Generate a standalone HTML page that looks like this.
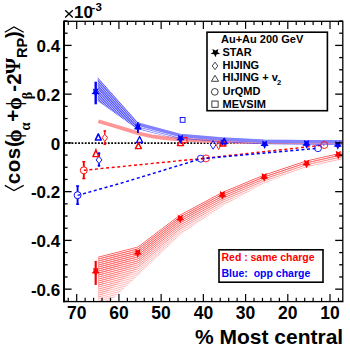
<!DOCTYPE html>
<html><head><meta charset="utf-8"><style>
html,body{margin:0;padding:0;background:#fff;width:350px;height:352px;overflow:hidden}
svg{display:block;position:absolute;left:0;top:0}
</style></head><body>
<svg width="350" height="352" viewBox="0 0 350 352">
<defs>
<clipPath id="fr"><rect x="65" y="21.8" width="277.3" height="279.3"/></clipPath>
<pattern id="hb" width="4" height="2" patternUnits="userSpaceOnUse"><rect x="0" y="0" width="2" height="1" fill="#3a3aff"/><rect x="2" y="1" width="2" height="1" fill="#3a3aff"/></pattern>
<pattern id="hr" width="4" height="2" patternUnits="userSpaceOnUse"><rect x="0" y="0" width="2" height="1" fill="#ff5555"/><rect x="2" y="1" width="2" height="1" fill="#ff5555"/></pattern>
<pattern id="hr2" width="4" height="2" patternUnits="userSpaceOnUse" x="1" y="0"><rect x="0" y="1" width="2" height="1" fill="#ff3030"/><rect x="2" y="0" width="2" height="1" fill="#ff3030"/></pattern>
</defs>
<g clip-path="url(#fr)">
<line x1="65" y1="143.1" x2="342" y2="143.1" stroke="#000" stroke-width="1.6" stroke-dasharray="1.8 1.5"/>
<clipPath id="rb"><polygon points="97.7,256.7 138.0,246.4 180.0,214.5 222.0,192.0 264.0,174.5 306.0,160.5 342.0,152.3 342.0,160.0 306.0,167.5 264.0,183.5 222.0,206.5 180.0,235.0 138.0,275.5 97.7,313.0"/></clipPath>
<g clip-path="url(#rb)" fill="none" stroke="#ff4040" stroke-width="0.9" stroke-opacity="0.42"><polyline points="97.7,253.2 138.0,242.9 180.0,211.0 222.0,188.5 264.0,171.0 306.0,157.0 342.0,148.8"/><polyline points="97.7,255.2 138.0,244.9 180.0,213.0 222.0,190.5 264.0,173.0 306.0,159.0 342.0,150.8"/><polyline points="97.7,257.2 138.0,246.9 180.0,215.0 222.0,192.5 264.0,175.0 306.0,161.0 342.0,152.8"/><polyline points="97.7,259.2 138.0,248.9 180.0,217.0 222.0,194.5 264.0,177.0 306.0,163.0 342.0,154.8"/><polyline points="97.7,261.2 138.0,250.9 180.0,219.0 222.0,196.5 264.0,179.0 306.0,165.0 342.0,156.8"/><polyline points="97.7,263.2 138.0,252.9 180.0,221.0 222.0,198.5 264.0,181.0 306.0,167.0 342.0,158.8"/><polyline points="97.7,265.2 138.0,254.9 180.0,223.0 222.0,200.5 264.0,183.0 306.0,169.0 342.0,160.8"/><polyline points="97.7,267.2 138.0,256.9 180.0,225.0 222.0,202.5 264.0,185.0 306.0,171.0 342.0,162.8"/><polyline points="97.7,269.2 138.0,258.9 180.0,227.0 222.0,204.5 264.0,187.0 306.0,173.0 342.0,164.8"/><polyline points="97.7,271.2 138.0,260.9 180.0,229.0 222.0,206.5 264.0,189.0 306.0,175.0 342.0,166.8"/><polyline points="97.7,273.2 138.0,262.9 180.0,231.0 222.0,208.5 264.0,191.0 306.0,177.0 342.0,168.8"/><polyline points="97.7,275.2 138.0,264.9 180.0,233.0 222.0,210.5 264.0,193.0 306.0,179.0 342.0,170.8"/><polyline points="97.7,277.2 138.0,266.9 180.0,235.0 222.0,212.5 264.0,195.0 306.0,181.0 342.0,172.8"/><polyline points="97.7,279.2 138.0,268.9 180.0,237.0 222.0,214.5 264.0,197.0 306.0,183.0 342.0,174.8"/><polyline points="97.7,281.2 138.0,270.9 180.0,239.0 222.0,216.5 264.0,199.0 306.0,185.0 342.0,176.8"/><polyline points="97.7,283.2 138.0,272.9 180.0,241.0 222.0,218.5 264.0,201.0 306.0,187.0 342.0,178.8"/><polyline points="97.7,285.2 138.0,274.9 180.0,243.0 222.0,220.5 264.0,203.0 306.0,189.0 342.0,180.8"/><polyline points="97.7,287.2 138.0,276.9 180.0,245.0 222.0,222.5 264.0,205.0 306.0,191.0 342.0,182.8"/><polyline points="97.7,289.2 138.0,278.9 180.0,247.0 222.0,224.5 264.0,207.0 306.0,193.0 342.0,184.8"/><polyline points="97.7,291.2 138.0,280.9 180.0,249.0 222.0,226.5 264.0,209.0 306.0,195.0 342.0,186.8"/><polyline points="97.7,293.2 138.0,282.9 180.0,251.0 222.0,228.5 264.0,211.0 306.0,197.0 342.0,188.8"/><polyline points="97.7,295.2 138.0,284.9 180.0,253.0 222.0,230.5 264.0,213.0 306.0,199.0 342.0,190.8"/><polyline points="97.7,297.2 138.0,286.9 180.0,255.0 222.0,232.5 264.0,215.0 306.0,201.0 342.0,192.8"/><polyline points="97.7,299.2 138.0,288.9 180.0,257.0 222.0,234.5 264.0,217.0 306.0,203.0 342.0,194.8"/><polyline points="97.7,301.2 138.0,290.9 180.0,259.0 222.0,236.5 264.0,219.0 306.0,205.0 342.0,196.8"/><polyline points="97.7,303.2 138.0,292.9 180.0,261.0 222.0,238.5 264.0,221.0 306.0,207.0 342.0,198.8"/><polyline points="97.7,305.2 138.0,294.9 180.0,263.0 222.0,240.5 264.0,223.0 306.0,209.0 342.0,200.8"/><polyline points="97.7,307.2 138.0,296.9 180.0,265.0 222.0,242.5 264.0,225.0 306.0,211.0 342.0,202.8"/><polyline points="97.7,309.2 138.0,298.9 180.0,267.0 222.0,244.5 264.0,227.0 306.0,213.0 342.0,204.8"/><polyline points="97.7,311.2 138.0,300.9 180.0,269.0 222.0,246.5 264.0,229.0 306.0,215.0 342.0,206.8"/><polyline points="97.7,313.2 138.0,302.9 180.0,271.0 222.0,248.5 264.0,231.0 306.0,217.0 342.0,208.8"/><polyline points="97.7,315.2 138.0,304.9 180.0,273.0 222.0,250.5 264.0,233.0 306.0,219.0 342.0,210.8"/><polyline points="97.7,317.2 138.0,306.9 180.0,275.0 222.0,252.5 264.0,235.0 306.0,221.0 342.0,212.8"/><polyline points="97.7,319.2 138.0,308.9 180.0,277.0 222.0,254.5 264.0,237.0 306.0,223.0 342.0,214.8"/><polyline points="97.7,321.2 138.0,310.9 180.0,279.0 222.0,256.5 264.0,239.0 306.0,225.0 342.0,216.8"/><polyline points="97.7,323.2 138.0,312.9 180.0,281.0 222.0,258.5 264.0,241.0 306.0,227.0 342.0,218.8"/></g>
<clipPath id="rm0"><polygon points="97.7,256.7 138.0,246.4 180.0,214.5 222.0,192.0 264.0,174.5 306.0,160.5 342.0,152.3 342.0,158.1 306.0,165.8 264.0,181.2 222.0,202.9 180.0,229.9 138.0,268.2 97.7,298.9"/></clipPath>
<g clip-path="url(#rm0)" fill="none" stroke="#ff3030" stroke-width="0.9" stroke-opacity="0.3"><polyline points="97.7,253.2 138.0,242.9 180.0,211.0 222.0,188.5 264.0,171.0 306.0,157.0 342.0,148.8"/><polyline points="97.7,255.2 138.0,244.9 180.0,213.0 222.0,190.5 264.0,173.0 306.0,159.0 342.0,150.8"/><polyline points="97.7,257.2 138.0,246.9 180.0,215.0 222.0,192.5 264.0,175.0 306.0,161.0 342.0,152.8"/><polyline points="97.7,259.2 138.0,248.9 180.0,217.0 222.0,194.5 264.0,177.0 306.0,163.0 342.0,154.8"/><polyline points="97.7,261.2 138.0,250.9 180.0,219.0 222.0,196.5 264.0,179.0 306.0,165.0 342.0,156.8"/><polyline points="97.7,263.2 138.0,252.9 180.0,221.0 222.0,198.5 264.0,181.0 306.0,167.0 342.0,158.8"/><polyline points="97.7,265.2 138.0,254.9 180.0,223.0 222.0,200.5 264.0,183.0 306.0,169.0 342.0,160.8"/><polyline points="97.7,267.2 138.0,256.9 180.0,225.0 222.0,202.5 264.0,185.0 306.0,171.0 342.0,162.8"/><polyline points="97.7,269.2 138.0,258.9 180.0,227.0 222.0,204.5 264.0,187.0 306.0,173.0 342.0,164.8"/><polyline points="97.7,271.2 138.0,260.9 180.0,229.0 222.0,206.5 264.0,189.0 306.0,175.0 342.0,166.8"/><polyline points="97.7,273.2 138.0,262.9 180.0,231.0 222.0,208.5 264.0,191.0 306.0,177.0 342.0,168.8"/><polyline points="97.7,275.2 138.0,264.9 180.0,233.0 222.0,210.5 264.0,193.0 306.0,179.0 342.0,170.8"/><polyline points="97.7,277.2 138.0,266.9 180.0,235.0 222.0,212.5 264.0,195.0 306.0,181.0 342.0,172.8"/><polyline points="97.7,279.2 138.0,268.9 180.0,237.0 222.0,214.5 264.0,197.0 306.0,183.0 342.0,174.8"/><polyline points="97.7,281.2 138.0,270.9 180.0,239.0 222.0,216.5 264.0,199.0 306.0,185.0 342.0,176.8"/><polyline points="97.7,283.2 138.0,272.9 180.0,241.0 222.0,218.5 264.0,201.0 306.0,187.0 342.0,178.8"/><polyline points="97.7,285.2 138.0,274.9 180.0,243.0 222.0,220.5 264.0,203.0 306.0,189.0 342.0,180.8"/><polyline points="97.7,287.2 138.0,276.9 180.0,245.0 222.0,222.5 264.0,205.0 306.0,191.0 342.0,182.8"/><polyline points="97.7,289.2 138.0,278.9 180.0,247.0 222.0,224.5 264.0,207.0 306.0,193.0 342.0,184.8"/><polyline points="97.7,291.2 138.0,280.9 180.0,249.0 222.0,226.5 264.0,209.0 306.0,195.0 342.0,186.8"/><polyline points="97.7,293.2 138.0,282.9 180.0,251.0 222.0,228.5 264.0,211.0 306.0,197.0 342.0,188.8"/><polyline points="97.7,295.2 138.0,284.9 180.0,253.0 222.0,230.5 264.0,213.0 306.0,199.0 342.0,190.8"/><polyline points="97.7,297.2 138.0,286.9 180.0,255.0 222.0,232.5 264.0,215.0 306.0,201.0 342.0,192.8"/><polyline points="97.7,299.2 138.0,288.9 180.0,257.0 222.0,234.5 264.0,217.0 306.0,203.0 342.0,194.8"/><polyline points="97.7,301.2 138.0,290.9 180.0,259.0 222.0,236.5 264.0,219.0 306.0,205.0 342.0,196.8"/><polyline points="97.7,303.2 138.0,292.9 180.0,261.0 222.0,238.5 264.0,221.0 306.0,207.0 342.0,198.8"/><polyline points="97.7,305.2 138.0,294.9 180.0,263.0 222.0,240.5 264.0,223.0 306.0,209.0 342.0,200.8"/><polyline points="97.7,307.2 138.0,296.9 180.0,265.0 222.0,242.5 264.0,225.0 306.0,211.0 342.0,202.8"/><polyline points="97.7,309.2 138.0,298.9 180.0,267.0 222.0,244.5 264.0,227.0 306.0,213.0 342.0,204.8"/><polyline points="97.7,311.2 138.0,300.9 180.0,269.0 222.0,246.5 264.0,229.0 306.0,215.0 342.0,206.8"/><polyline points="97.7,313.2 138.0,302.9 180.0,271.0 222.0,248.5 264.0,231.0 306.0,217.0 342.0,208.8"/><polyline points="97.7,315.2 138.0,304.9 180.0,273.0 222.0,250.5 264.0,233.0 306.0,219.0 342.0,210.8"/><polyline points="97.7,317.2 138.0,306.9 180.0,275.0 222.0,252.5 264.0,235.0 306.0,221.0 342.0,212.8"/><polyline points="97.7,319.2 138.0,308.9 180.0,277.0 222.0,254.5 264.0,237.0 306.0,223.0 342.0,214.8"/><polyline points="97.7,321.2 138.0,310.9 180.0,279.0 222.0,256.5 264.0,239.0 306.0,225.0 342.0,216.8"/><polyline points="97.7,323.2 138.0,312.9 180.0,281.0 222.0,258.5 264.0,241.0 306.0,227.0 342.0,218.8"/></g>
<clipPath id="rm1"><polygon points="97.7,256.7 138.0,246.4 180.0,214.5 222.0,192.0 264.0,174.5 306.0,160.5 342.0,152.3 342.0,156.5 306.0,164.3 264.0,179.4 222.0,200.0 180.0,225.8 138.0,262.4 97.7,287.7"/></clipPath>
<g clip-path="url(#rm1)" fill="none" stroke="#ff3030" stroke-width="0.9" stroke-opacity="0.3"><polyline points="97.7,253.2 138.0,242.9 180.0,211.0 222.0,188.5 264.0,171.0 306.0,157.0 342.0,148.8"/><polyline points="97.7,255.2 138.0,244.9 180.0,213.0 222.0,190.5 264.0,173.0 306.0,159.0 342.0,150.8"/><polyline points="97.7,257.2 138.0,246.9 180.0,215.0 222.0,192.5 264.0,175.0 306.0,161.0 342.0,152.8"/><polyline points="97.7,259.2 138.0,248.9 180.0,217.0 222.0,194.5 264.0,177.0 306.0,163.0 342.0,154.8"/><polyline points="97.7,261.2 138.0,250.9 180.0,219.0 222.0,196.5 264.0,179.0 306.0,165.0 342.0,156.8"/><polyline points="97.7,263.2 138.0,252.9 180.0,221.0 222.0,198.5 264.0,181.0 306.0,167.0 342.0,158.8"/><polyline points="97.7,265.2 138.0,254.9 180.0,223.0 222.0,200.5 264.0,183.0 306.0,169.0 342.0,160.8"/><polyline points="97.7,267.2 138.0,256.9 180.0,225.0 222.0,202.5 264.0,185.0 306.0,171.0 342.0,162.8"/><polyline points="97.7,269.2 138.0,258.9 180.0,227.0 222.0,204.5 264.0,187.0 306.0,173.0 342.0,164.8"/><polyline points="97.7,271.2 138.0,260.9 180.0,229.0 222.0,206.5 264.0,189.0 306.0,175.0 342.0,166.8"/><polyline points="97.7,273.2 138.0,262.9 180.0,231.0 222.0,208.5 264.0,191.0 306.0,177.0 342.0,168.8"/><polyline points="97.7,275.2 138.0,264.9 180.0,233.0 222.0,210.5 264.0,193.0 306.0,179.0 342.0,170.8"/><polyline points="97.7,277.2 138.0,266.9 180.0,235.0 222.0,212.5 264.0,195.0 306.0,181.0 342.0,172.8"/><polyline points="97.7,279.2 138.0,268.9 180.0,237.0 222.0,214.5 264.0,197.0 306.0,183.0 342.0,174.8"/><polyline points="97.7,281.2 138.0,270.9 180.0,239.0 222.0,216.5 264.0,199.0 306.0,185.0 342.0,176.8"/><polyline points="97.7,283.2 138.0,272.9 180.0,241.0 222.0,218.5 264.0,201.0 306.0,187.0 342.0,178.8"/><polyline points="97.7,285.2 138.0,274.9 180.0,243.0 222.0,220.5 264.0,203.0 306.0,189.0 342.0,180.8"/><polyline points="97.7,287.2 138.0,276.9 180.0,245.0 222.0,222.5 264.0,205.0 306.0,191.0 342.0,182.8"/><polyline points="97.7,289.2 138.0,278.9 180.0,247.0 222.0,224.5 264.0,207.0 306.0,193.0 342.0,184.8"/><polyline points="97.7,291.2 138.0,280.9 180.0,249.0 222.0,226.5 264.0,209.0 306.0,195.0 342.0,186.8"/><polyline points="97.7,293.2 138.0,282.9 180.0,251.0 222.0,228.5 264.0,211.0 306.0,197.0 342.0,188.8"/><polyline points="97.7,295.2 138.0,284.9 180.0,253.0 222.0,230.5 264.0,213.0 306.0,199.0 342.0,190.8"/><polyline points="97.7,297.2 138.0,286.9 180.0,255.0 222.0,232.5 264.0,215.0 306.0,201.0 342.0,192.8"/><polyline points="97.7,299.2 138.0,288.9 180.0,257.0 222.0,234.5 264.0,217.0 306.0,203.0 342.0,194.8"/><polyline points="97.7,301.2 138.0,290.9 180.0,259.0 222.0,236.5 264.0,219.0 306.0,205.0 342.0,196.8"/><polyline points="97.7,303.2 138.0,292.9 180.0,261.0 222.0,238.5 264.0,221.0 306.0,207.0 342.0,198.8"/><polyline points="97.7,305.2 138.0,294.9 180.0,263.0 222.0,240.5 264.0,223.0 306.0,209.0 342.0,200.8"/><polyline points="97.7,307.2 138.0,296.9 180.0,265.0 222.0,242.5 264.0,225.0 306.0,211.0 342.0,202.8"/><polyline points="97.7,309.2 138.0,298.9 180.0,267.0 222.0,244.5 264.0,227.0 306.0,213.0 342.0,204.8"/><polyline points="97.7,311.2 138.0,300.9 180.0,269.0 222.0,246.5 264.0,229.0 306.0,215.0 342.0,206.8"/><polyline points="97.7,313.2 138.0,302.9 180.0,271.0 222.0,248.5 264.0,231.0 306.0,217.0 342.0,208.8"/><polyline points="97.7,315.2 138.0,304.9 180.0,273.0 222.0,250.5 264.0,233.0 306.0,219.0 342.0,210.8"/><polyline points="97.7,317.2 138.0,306.9 180.0,275.0 222.0,252.5 264.0,235.0 306.0,221.0 342.0,212.8"/><polyline points="97.7,319.2 138.0,308.9 180.0,277.0 222.0,254.5 264.0,237.0 306.0,223.0 342.0,214.8"/><polyline points="97.7,321.2 138.0,310.9 180.0,279.0 222.0,256.5 264.0,239.0 306.0,225.0 342.0,216.8"/><polyline points="97.7,323.2 138.0,312.9 180.0,281.0 222.0,258.5 264.0,241.0 306.0,227.0 342.0,218.8"/></g>
<clipPath id="rm2"><polygon points="97.7,256.7 138.0,246.4 180.0,214.5 222.0,192.0 264.0,174.5 306.0,160.5 342.0,152.3 342.0,155.0 306.0,162.9 264.0,177.7 222.0,197.1 180.0,221.7 138.0,256.6 97.7,276.4"/></clipPath>
<g clip-path="url(#rm2)" fill="none" stroke="#ff3030" stroke-width="0.9" stroke-opacity="0.3"><polyline points="97.7,253.2 138.0,242.9 180.0,211.0 222.0,188.5 264.0,171.0 306.0,157.0 342.0,148.8"/><polyline points="97.7,255.2 138.0,244.9 180.0,213.0 222.0,190.5 264.0,173.0 306.0,159.0 342.0,150.8"/><polyline points="97.7,257.2 138.0,246.9 180.0,215.0 222.0,192.5 264.0,175.0 306.0,161.0 342.0,152.8"/><polyline points="97.7,259.2 138.0,248.9 180.0,217.0 222.0,194.5 264.0,177.0 306.0,163.0 342.0,154.8"/><polyline points="97.7,261.2 138.0,250.9 180.0,219.0 222.0,196.5 264.0,179.0 306.0,165.0 342.0,156.8"/><polyline points="97.7,263.2 138.0,252.9 180.0,221.0 222.0,198.5 264.0,181.0 306.0,167.0 342.0,158.8"/><polyline points="97.7,265.2 138.0,254.9 180.0,223.0 222.0,200.5 264.0,183.0 306.0,169.0 342.0,160.8"/><polyline points="97.7,267.2 138.0,256.9 180.0,225.0 222.0,202.5 264.0,185.0 306.0,171.0 342.0,162.8"/><polyline points="97.7,269.2 138.0,258.9 180.0,227.0 222.0,204.5 264.0,187.0 306.0,173.0 342.0,164.8"/><polyline points="97.7,271.2 138.0,260.9 180.0,229.0 222.0,206.5 264.0,189.0 306.0,175.0 342.0,166.8"/><polyline points="97.7,273.2 138.0,262.9 180.0,231.0 222.0,208.5 264.0,191.0 306.0,177.0 342.0,168.8"/><polyline points="97.7,275.2 138.0,264.9 180.0,233.0 222.0,210.5 264.0,193.0 306.0,179.0 342.0,170.8"/><polyline points="97.7,277.2 138.0,266.9 180.0,235.0 222.0,212.5 264.0,195.0 306.0,181.0 342.0,172.8"/><polyline points="97.7,279.2 138.0,268.9 180.0,237.0 222.0,214.5 264.0,197.0 306.0,183.0 342.0,174.8"/><polyline points="97.7,281.2 138.0,270.9 180.0,239.0 222.0,216.5 264.0,199.0 306.0,185.0 342.0,176.8"/><polyline points="97.7,283.2 138.0,272.9 180.0,241.0 222.0,218.5 264.0,201.0 306.0,187.0 342.0,178.8"/><polyline points="97.7,285.2 138.0,274.9 180.0,243.0 222.0,220.5 264.0,203.0 306.0,189.0 342.0,180.8"/><polyline points="97.7,287.2 138.0,276.9 180.0,245.0 222.0,222.5 264.0,205.0 306.0,191.0 342.0,182.8"/><polyline points="97.7,289.2 138.0,278.9 180.0,247.0 222.0,224.5 264.0,207.0 306.0,193.0 342.0,184.8"/><polyline points="97.7,291.2 138.0,280.9 180.0,249.0 222.0,226.5 264.0,209.0 306.0,195.0 342.0,186.8"/><polyline points="97.7,293.2 138.0,282.9 180.0,251.0 222.0,228.5 264.0,211.0 306.0,197.0 342.0,188.8"/><polyline points="97.7,295.2 138.0,284.9 180.0,253.0 222.0,230.5 264.0,213.0 306.0,199.0 342.0,190.8"/><polyline points="97.7,297.2 138.0,286.9 180.0,255.0 222.0,232.5 264.0,215.0 306.0,201.0 342.0,192.8"/><polyline points="97.7,299.2 138.0,288.9 180.0,257.0 222.0,234.5 264.0,217.0 306.0,203.0 342.0,194.8"/><polyline points="97.7,301.2 138.0,290.9 180.0,259.0 222.0,236.5 264.0,219.0 306.0,205.0 342.0,196.8"/><polyline points="97.7,303.2 138.0,292.9 180.0,261.0 222.0,238.5 264.0,221.0 306.0,207.0 342.0,198.8"/><polyline points="97.7,305.2 138.0,294.9 180.0,263.0 222.0,240.5 264.0,223.0 306.0,209.0 342.0,200.8"/><polyline points="97.7,307.2 138.0,296.9 180.0,265.0 222.0,242.5 264.0,225.0 306.0,211.0 342.0,202.8"/><polyline points="97.7,309.2 138.0,298.9 180.0,267.0 222.0,244.5 264.0,227.0 306.0,213.0 342.0,204.8"/><polyline points="97.7,311.2 138.0,300.9 180.0,269.0 222.0,246.5 264.0,229.0 306.0,215.0 342.0,206.8"/><polyline points="97.7,313.2 138.0,302.9 180.0,271.0 222.0,248.5 264.0,231.0 306.0,217.0 342.0,208.8"/><polyline points="97.7,315.2 138.0,304.9 180.0,273.0 222.0,250.5 264.0,233.0 306.0,219.0 342.0,210.8"/><polyline points="97.7,317.2 138.0,306.9 180.0,275.0 222.0,252.5 264.0,235.0 306.0,221.0 342.0,212.8"/><polyline points="97.7,319.2 138.0,308.9 180.0,277.0 222.0,254.5 264.0,237.0 306.0,223.0 342.0,214.8"/><polyline points="97.7,321.2 138.0,310.9 180.0,279.0 222.0,256.5 264.0,239.0 306.0,225.0 342.0,216.8"/><polyline points="97.7,323.2 138.0,312.9 180.0,281.0 222.0,258.5 264.0,241.0 306.0,227.0 342.0,218.8"/></g>
<polyline points="98.3,121.2 112.0,125.3 126.5,129.6 139.0,133.5 152.0,136.3 164.0,138.0 180.0,139.4 200.0,140.6 240.0,141.8 300.0,142.2 342.0,142.3" fill="none" stroke="#ff9696" stroke-width="3.8"/>
<clipPath id="bl"><polygon points="97.7,77.2 138.0,122.5 138.0,129.8 97.7,101.0"/></clipPath>
<g clip-path="url(#bl)" stroke="#2a2aff" stroke-width="1.25" stroke-opacity="0.8"><line x1="95.7" y1="75.45" x2="140" y2="125.25"/><line x1="95.7" y1="78.05" x2="140" y2="127.85"/><line x1="95.7" y1="80.65" x2="140" y2="130.45"/><line x1="95.7" y1="83.25" x2="140" y2="133.05"/><line x1="95.7" y1="85.85" x2="140" y2="135.65"/><line x1="95.7" y1="88.45" x2="140" y2="138.25"/><line x1="95.7" y1="91.05" x2="140" y2="140.85"/><line x1="95.7" y1="93.65" x2="140" y2="143.45"/><line x1="95.7" y1="96.25" x2="140" y2="146.05"/><line x1="95.7" y1="98.85" x2="140" y2="148.65"/><line x1="95.7" y1="101.45" x2="140" y2="151.25"/><line x1="95.7" y1="104.05" x2="140" y2="153.85"/><line x1="95.7" y1="106.65" x2="140" y2="156.45"/><line x1="95.7" y1="109.25" x2="140" y2="159.05"/></g>
<clipPath id="bb"><polygon points="138.0,122.5 180.0,133.8 222.0,137.4 264.0,139.6 306.0,139.9 342.0,140.0 342.0,145.0 306.0,145.0 264.0,144.6 222.0,142.5 180.0,139.5 138.0,129.8"/></clipPath>
<g clip-path="url(#bb)" fill="none" stroke="#3030ff" stroke-width="0.85" stroke-opacity="0.7"><polyline points="138.0,123.1 180.0,134.4 222.0,138.0 264.0,140.2 306.0,140.5 342.0,140.6"/><polyline points="138.0,125.0 180.0,136.3 222.0,139.9 264.0,142.1 306.0,142.4 342.0,142.5"/><polyline points="138.0,126.9 180.0,138.2 222.0,141.8 264.0,144.0 306.0,144.3 342.0,144.4"/><polyline points="138.0,128.8 180.0,140.1 222.0,143.7 264.0,145.9 306.0,146.2 342.0,146.3"/><polyline points="138.0,130.7 180.0,142.0 222.0,145.6 264.0,147.8 306.0,148.1 342.0,148.2"/><polyline points="138.0,132.6 180.0,143.9 222.0,147.5 264.0,149.7 306.0,150.0 342.0,150.1"/></g>
<polyline points="138.0,124.2 180.0,135.4 222.0,139.0 264.0,141.3 306.0,141.6 342.0,141.7" fill="none" stroke="#8282ff" stroke-width="3.4"/>
<polyline points="83.8,170.3 206.0,158.1 324.3,145.0" fill="none" stroke="#f00" stroke-width="1.45" stroke-dasharray="3 2.6"/>
<polyline points="77.6,195.4 124.0,182.3 148.0,175.0 200.8,158.7 318.0,148.3" fill="none" stroke="#00f" stroke-width="1.45" stroke-dasharray="3 2.6"/>
</g>
<line x1="95.7" y1="81.7" x2="95.7" y2="104.3" stroke="#0000ff" stroke-width="2.4"/>
<line x1="95.7" y1="260.9" x2="95.7" y2="284.9" stroke="#ff0000" stroke-width="2.2"/>
<line x1="83.8" y1="161" x2="83.8" y2="166.8" stroke="#ff0000" stroke-width="1.9"/><line x1="83.8" y1="173.8" x2="83.8" y2="179.2" stroke="#ff0000" stroke-width="1.9"/><rect x="82.30" y="161.00" width="3.0" height="1.4" fill="#ff0000"/><rect x="82.30" y="177.80" width="3.0" height="1.4" fill="#ff0000"/>
<line x1="77.6" y1="185.4" x2="77.6" y2="191.7" stroke="#0000ff" stroke-width="1.9"/><line x1="77.6" y1="198.7" x2="77.6" y2="204.9" stroke="#0000ff" stroke-width="1.9"/><rect x="76.10" y="185.40" width="3.0" height="1.4" fill="#0000ff"/><rect x="76.10" y="203.50" width="3.0" height="1.4" fill="#0000ff"/>
<line x1="104.8" y1="130.3" x2="104.8" y2="134.2" stroke="#ff0000" stroke-width="1.3"/><line x1="104.8" y1="141.4" x2="104.8" y2="144.9" stroke="#ff0000" stroke-width="1.3"/><rect x="103.50" y="130.30" width="2.6" height="1.4" fill="#ff0000"/><rect x="103.50" y="143.50" width="2.6" height="1.4" fill="#ff0000"/>
<line x1="99" y1="152.6" x2="99" y2="156.2" stroke="#0000ff" stroke-width="1.9"/><line x1="99" y1="163.6" x2="99" y2="166.5" stroke="#0000ff" stroke-width="1.9"/><rect x="97.70" y="152.60" width="2.6" height="1.4" fill="#0000ff"/><rect x="97.70" y="165.10" width="2.6" height="1.4" fill="#0000ff"/>
<circle cx="83.8" cy="170.3" r="3.5" fill="none" stroke="#ff0000" stroke-width="0.95"/>
<circle cx="77.6" cy="195.2" r="3.5" fill="none" stroke="#0000ff" stroke-width="0.95"/>
<circle cx="206" cy="158.4" r="3.5" fill="none" stroke="#ff0000" stroke-width="0.85"/>
<circle cx="200.8" cy="158.7" r="3.5" fill="none" stroke="#0000ff" stroke-width="0.85"/>
<circle cx="324.3" cy="145" r="3.5" fill="none" stroke="#ff0000" stroke-width="0.85"/>
<circle cx="318" cy="148.3" r="3.4" fill="none" stroke="#0000ff" stroke-width="0.85"/>
<polygon points="104.8,134.2 107.5,137.8 104.8,141.4 102.1,137.8" fill="none" stroke="#ff0000" stroke-width="0.95"/>
<polygon points="99.0,156.2 101.9,159.9 99.0,163.7 96.1,159.9" fill="none" stroke="#0000ff" stroke-width="0.95"/>
<polygon points="213.1,140.6 215.9,144.9 213.1,149.2 210.3,144.9" fill="none" stroke="#0000ff" stroke-width="0.85"/>
<polygon points="218.6,141.3 220.7,145.4 218.6,149.5 216.5,145.4" fill="none" stroke="#ff0000" stroke-width="0.85"/>
<polygon points="222.5,145.9 221.5,143.8 219.4,143.4 221.0,141.7 220.6,139.4 222.5,140.5 224.4,139.4 224.0,141.7 225.6,143.4 223.5,143.8" fill="#0000ff"/>
<polygon points="95.3,140.1 101.3,140.1 98.3,133.9" fill="none" stroke="#0000ff" stroke-width="1.5" stroke-linejoin="round"/>
<line x1="95.9" y1="148.6" x2="95.9" y2="150.5" stroke="#ff0000" stroke-width="1.3"/>
<polygon points="92.9,156.6 98.9,156.6 95.9,150.2" fill="none" stroke="#ff0000" stroke-width="1.45" stroke-linejoin="round"/>
<polygon points="136.5,142.5 142.7,142.5 139.6,136.5" fill="none" stroke="#0000ff" stroke-width="1.3" stroke-linejoin="round"/>
<polygon points="135.4,148.6 141.4,148.6 138.4,142.8" fill="none" stroke="#ff0000" stroke-width="1.45" stroke-linejoin="round"/>
<polygon points="177.4,145.6 183.6,145.6 180.5,139.8" fill="none" stroke="#ff0000" stroke-width="1.45" stroke-linejoin="round"/>
<polygon points="219.8,146.0 225.8,146.0 222.8,140.4" fill="none" stroke="#ff0000" stroke-width="1.6" stroke-linejoin="round"/>
<polygon points="221.4,143.6 227.0,143.6 224.2,138.4" fill="none" stroke="#0000ff" stroke-width="1.6" stroke-linejoin="round"/>
<rect x="180.2" y="117.5" width="4.8" height="4.8" fill="none" stroke="#0000ff" stroke-width="0.9"/>
<rect x="181.60000000000002" y="137.4" width="5.4" height="5.4" fill="none" stroke="#ff0000" stroke-width="0.9"/>
<line x1="137.9" y1="122.3" x2="137.9" y2="133.0" stroke="#0000ff" stroke-width="1.8"/>
<polygon points="95.6,97.2 94.3,94.3 91.5,93.9 93.5,91.7 93.1,88.5 95.6,90.0 98.1,88.5 97.7,91.7 99.7,93.9 96.9,94.3" fill="#0000ff"/>
<polygon points="137.9,132.5 136.6,129.6 133.8,129.2 135.8,127.0 135.4,123.8 137.9,125.3 140.4,123.8 140.0,127.0 142.0,129.2 139.2,129.6" fill="#0000ff"/>
<polygon points="180.5,143.4 179.2,140.5 176.4,140.1 178.4,137.9 178.0,134.7 180.5,136.2 183.0,134.7 182.6,137.9 184.6,140.1 181.8,140.5" fill="#0000ff"/>
<polygon points="264.6,149.1 263.3,146.2 260.5,145.8 262.5,143.6 262.1,140.4 264.6,141.9 267.1,140.4 266.7,143.6 268.7,145.8 265.9,146.2" fill="#0000ff"/>
<polygon points="306.5,148.8 305.2,145.9 302.4,145.5 304.4,143.3 304.0,140.1 306.5,141.6 309.0,140.1 308.6,143.3 310.6,145.5 307.8,145.9" fill="#0000ff"/>
<polygon points="337.8,149.8 336.5,146.9 333.7,146.5 335.7,144.3 335.3,141.1 337.8,142.6 340.3,141.1 339.9,144.3 341.9,146.5 339.1,146.9" fill="#0000ff"/>
<polygon points="95.7,276.5 94.4,273.6 91.6,273.2 93.6,271.0 93.2,267.8 95.7,269.3 98.2,267.8 97.8,271.0 99.8,273.2 97.0,273.6" fill="#ff0000"/>
<polygon points="137.7,257.7 136.4,254.8 133.6,254.4 135.6,252.2 135.2,249.0 137.7,250.5 140.2,249.0 139.8,252.2 141.8,254.4 139.0,254.8" fill="#ff0000"/>
<polygon points="180.2,223.5 178.9,220.6 176.1,220.2 178.1,218.0 177.7,214.8 180.2,216.3 182.7,214.8 182.3,218.0 184.3,220.2 181.5,220.6" fill="#ff0000"/>
<polygon points="222.4,199.8 221.1,196.9 218.3,196.5 220.3,194.3 219.9,191.1 222.4,192.6 224.9,191.1 224.5,194.3 226.5,196.5 223.7,196.9" fill="#ff0000"/>
<polygon points="264.2,181.8 262.9,178.9 260.1,178.5 262.1,176.3 261.7,173.1 264.2,174.6 266.7,173.1 266.3,176.3 268.3,178.5 265.5,178.9" fill="#ff0000"/>
<polygon points="306.6,168.5 305.3,165.6 302.5,165.2 304.5,163.0 304.1,159.8 306.6,161.3 309.1,159.8 308.7,163.0 310.7,165.2 307.9,165.6" fill="#ff0000"/>
<polygon points="338.3,159.5 337.0,156.6 334.2,156.2 336.2,154.0 335.8,150.8 338.3,152.3 340.8,150.8 340.4,154.0 342.4,156.2 339.6,156.6" fill="#ff0000"/>
<line x1="64.00" y1="301.34" x2="67.60" y2="301.34" stroke="#000" stroke-width="1.3"/>
<line x1="342.80" y1="301.34" x2="339.20" y2="301.34" stroke="#000" stroke-width="1.3"/>
<line x1="64.00" y1="289.15" x2="71.60" y2="289.15" stroke="#000" stroke-width="1.3"/>
<line x1="342.80" y1="289.15" x2="335.20" y2="289.15" stroke="#000" stroke-width="1.3"/>
<line x1="64.00" y1="276.96" x2="67.60" y2="276.96" stroke="#000" stroke-width="1.3"/>
<line x1="342.80" y1="276.96" x2="339.20" y2="276.96" stroke="#000" stroke-width="1.3"/>
<line x1="64.00" y1="264.77" x2="67.60" y2="264.77" stroke="#000" stroke-width="1.3"/>
<line x1="342.80" y1="264.77" x2="339.20" y2="264.77" stroke="#000" stroke-width="1.3"/>
<line x1="64.00" y1="252.59" x2="67.60" y2="252.59" stroke="#000" stroke-width="1.3"/>
<line x1="342.80" y1="252.59" x2="339.20" y2="252.59" stroke="#000" stroke-width="1.3"/>
<line x1="64.00" y1="240.40" x2="71.60" y2="240.40" stroke="#000" stroke-width="1.3"/>
<line x1="342.80" y1="240.40" x2="335.20" y2="240.40" stroke="#000" stroke-width="1.3"/>
<line x1="64.00" y1="228.21" x2="67.60" y2="228.21" stroke="#000" stroke-width="1.3"/>
<line x1="342.80" y1="228.21" x2="339.20" y2="228.21" stroke="#000" stroke-width="1.3"/>
<line x1="64.00" y1="216.03" x2="67.60" y2="216.03" stroke="#000" stroke-width="1.3"/>
<line x1="342.80" y1="216.03" x2="339.20" y2="216.03" stroke="#000" stroke-width="1.3"/>
<line x1="64.00" y1="203.84" x2="67.60" y2="203.84" stroke="#000" stroke-width="1.3"/>
<line x1="342.80" y1="203.84" x2="339.20" y2="203.84" stroke="#000" stroke-width="1.3"/>
<line x1="64.00" y1="191.65" x2="71.60" y2="191.65" stroke="#000" stroke-width="1.3"/>
<line x1="342.80" y1="191.65" x2="335.20" y2="191.65" stroke="#000" stroke-width="1.3"/>
<line x1="64.00" y1="179.46" x2="67.60" y2="179.46" stroke="#000" stroke-width="1.3"/>
<line x1="342.80" y1="179.46" x2="339.20" y2="179.46" stroke="#000" stroke-width="1.3"/>
<line x1="64.00" y1="167.28" x2="67.60" y2="167.28" stroke="#000" stroke-width="1.3"/>
<line x1="342.80" y1="167.28" x2="339.20" y2="167.28" stroke="#000" stroke-width="1.3"/>
<line x1="64.00" y1="155.09" x2="67.60" y2="155.09" stroke="#000" stroke-width="1.3"/>
<line x1="342.80" y1="155.09" x2="339.20" y2="155.09" stroke="#000" stroke-width="1.3"/>
<line x1="64.00" y1="142.90" x2="71.60" y2="142.90" stroke="#000" stroke-width="1.3"/>
<line x1="342.80" y1="142.90" x2="335.20" y2="142.90" stroke="#000" stroke-width="1.3"/>
<line x1="64.00" y1="130.71" x2="67.60" y2="130.71" stroke="#000" stroke-width="1.3"/>
<line x1="342.80" y1="130.71" x2="339.20" y2="130.71" stroke="#000" stroke-width="1.3"/>
<line x1="64.00" y1="118.53" x2="67.60" y2="118.53" stroke="#000" stroke-width="1.3"/>
<line x1="342.80" y1="118.53" x2="339.20" y2="118.53" stroke="#000" stroke-width="1.3"/>
<line x1="64.00" y1="106.34" x2="67.60" y2="106.34" stroke="#000" stroke-width="1.3"/>
<line x1="342.80" y1="106.34" x2="339.20" y2="106.34" stroke="#000" stroke-width="1.3"/>
<line x1="64.00" y1="94.15" x2="71.60" y2="94.15" stroke="#000" stroke-width="1.3"/>
<line x1="342.80" y1="94.15" x2="335.20" y2="94.15" stroke="#000" stroke-width="1.3"/>
<line x1="64.00" y1="81.96" x2="67.60" y2="81.96" stroke="#000" stroke-width="1.3"/>
<line x1="342.80" y1="81.96" x2="339.20" y2="81.96" stroke="#000" stroke-width="1.3"/>
<line x1="64.00" y1="69.77" x2="67.60" y2="69.77" stroke="#000" stroke-width="1.3"/>
<line x1="342.80" y1="69.77" x2="339.20" y2="69.77" stroke="#000" stroke-width="1.3"/>
<line x1="64.00" y1="57.59" x2="67.60" y2="57.59" stroke="#000" stroke-width="1.3"/>
<line x1="342.80" y1="57.59" x2="339.20" y2="57.59" stroke="#000" stroke-width="1.3"/>
<line x1="64.00" y1="45.40" x2="71.60" y2="45.40" stroke="#000" stroke-width="1.3"/>
<line x1="342.80" y1="45.40" x2="335.20" y2="45.40" stroke="#000" stroke-width="1.3"/>
<line x1="64.00" y1="33.21" x2="67.60" y2="33.21" stroke="#000" stroke-width="1.3"/>
<line x1="342.80" y1="33.21" x2="339.20" y2="33.21" stroke="#000" stroke-width="1.3"/>
<line x1="64.00" y1="21.03" x2="67.60" y2="21.03" stroke="#000" stroke-width="1.3"/>
<line x1="342.80" y1="21.03" x2="339.20" y2="21.03" stroke="#000" stroke-width="1.3"/>
<line x1="338.46" y1="301.60" x2="338.46" y2="297.80" stroke="#000" stroke-width="1.2"/>
<line x1="338.46" y1="21.30" x2="338.46" y2="25.10" stroke="#000" stroke-width="1.2"/>
<line x1="330.02" y1="301.60" x2="330.02" y2="294.00" stroke="#000" stroke-width="1.2"/>
<line x1="330.02" y1="21.30" x2="330.02" y2="28.90" stroke="#000" stroke-width="1.2"/>
<line x1="321.58" y1="301.60" x2="321.58" y2="297.80" stroke="#000" stroke-width="1.2"/>
<line x1="321.58" y1="21.30" x2="321.58" y2="25.10" stroke="#000" stroke-width="1.2"/>
<line x1="313.13" y1="301.60" x2="313.13" y2="297.80" stroke="#000" stroke-width="1.2"/>
<line x1="313.13" y1="21.30" x2="313.13" y2="25.10" stroke="#000" stroke-width="1.2"/>
<line x1="304.69" y1="301.60" x2="304.69" y2="297.80" stroke="#000" stroke-width="1.2"/>
<line x1="304.69" y1="21.30" x2="304.69" y2="25.10" stroke="#000" stroke-width="1.2"/>
<line x1="296.24" y1="301.60" x2="296.24" y2="297.80" stroke="#000" stroke-width="1.2"/>
<line x1="296.24" y1="21.30" x2="296.24" y2="25.10" stroke="#000" stroke-width="1.2"/>
<line x1="287.80" y1="301.60" x2="287.80" y2="294.00" stroke="#000" stroke-width="1.2"/>
<line x1="287.80" y1="21.30" x2="287.80" y2="28.90" stroke="#000" stroke-width="1.2"/>
<line x1="279.36" y1="301.60" x2="279.36" y2="297.80" stroke="#000" stroke-width="1.2"/>
<line x1="279.36" y1="21.30" x2="279.36" y2="25.10" stroke="#000" stroke-width="1.2"/>
<line x1="270.91" y1="301.60" x2="270.91" y2="297.80" stroke="#000" stroke-width="1.2"/>
<line x1="270.91" y1="21.30" x2="270.91" y2="25.10" stroke="#000" stroke-width="1.2"/>
<line x1="262.47" y1="301.60" x2="262.47" y2="297.80" stroke="#000" stroke-width="1.2"/>
<line x1="262.47" y1="21.30" x2="262.47" y2="25.10" stroke="#000" stroke-width="1.2"/>
<line x1="254.02" y1="301.60" x2="254.02" y2="297.80" stroke="#000" stroke-width="1.2"/>
<line x1="254.02" y1="21.30" x2="254.02" y2="25.10" stroke="#000" stroke-width="1.2"/>
<line x1="245.58" y1="301.60" x2="245.58" y2="294.00" stroke="#000" stroke-width="1.2"/>
<line x1="245.58" y1="21.30" x2="245.58" y2="28.90" stroke="#000" stroke-width="1.2"/>
<line x1="237.14" y1="301.60" x2="237.14" y2="297.80" stroke="#000" stroke-width="1.2"/>
<line x1="237.14" y1="21.30" x2="237.14" y2="25.10" stroke="#000" stroke-width="1.2"/>
<line x1="228.69" y1="301.60" x2="228.69" y2="297.80" stroke="#000" stroke-width="1.2"/>
<line x1="228.69" y1="21.30" x2="228.69" y2="25.10" stroke="#000" stroke-width="1.2"/>
<line x1="220.25" y1="301.60" x2="220.25" y2="297.80" stroke="#000" stroke-width="1.2"/>
<line x1="220.25" y1="21.30" x2="220.25" y2="25.10" stroke="#000" stroke-width="1.2"/>
<line x1="211.80" y1="301.60" x2="211.80" y2="297.80" stroke="#000" stroke-width="1.2"/>
<line x1="211.80" y1="21.30" x2="211.80" y2="25.10" stroke="#000" stroke-width="1.2"/>
<line x1="203.36" y1="301.60" x2="203.36" y2="294.00" stroke="#000" stroke-width="1.2"/>
<line x1="203.36" y1="21.30" x2="203.36" y2="28.90" stroke="#000" stroke-width="1.2"/>
<line x1="194.92" y1="301.60" x2="194.92" y2="297.80" stroke="#000" stroke-width="1.2"/>
<line x1="194.92" y1="21.30" x2="194.92" y2="25.10" stroke="#000" stroke-width="1.2"/>
<line x1="186.47" y1="301.60" x2="186.47" y2="297.80" stroke="#000" stroke-width="1.2"/>
<line x1="186.47" y1="21.30" x2="186.47" y2="25.10" stroke="#000" stroke-width="1.2"/>
<line x1="178.03" y1="301.60" x2="178.03" y2="297.80" stroke="#000" stroke-width="1.2"/>
<line x1="178.03" y1="21.30" x2="178.03" y2="25.10" stroke="#000" stroke-width="1.2"/>
<line x1="169.58" y1="301.60" x2="169.58" y2="297.80" stroke="#000" stroke-width="1.2"/>
<line x1="169.58" y1="21.30" x2="169.58" y2="25.10" stroke="#000" stroke-width="1.2"/>
<line x1="161.14" y1="301.60" x2="161.14" y2="294.00" stroke="#000" stroke-width="1.2"/>
<line x1="161.14" y1="21.30" x2="161.14" y2="28.90" stroke="#000" stroke-width="1.2"/>
<line x1="152.70" y1="301.60" x2="152.70" y2="297.80" stroke="#000" stroke-width="1.2"/>
<line x1="152.70" y1="21.30" x2="152.70" y2="25.10" stroke="#000" stroke-width="1.2"/>
<line x1="144.25" y1="301.60" x2="144.25" y2="297.80" stroke="#000" stroke-width="1.2"/>
<line x1="144.25" y1="21.30" x2="144.25" y2="25.10" stroke="#000" stroke-width="1.2"/>
<line x1="135.81" y1="301.60" x2="135.81" y2="297.80" stroke="#000" stroke-width="1.2"/>
<line x1="135.81" y1="21.30" x2="135.81" y2="25.10" stroke="#000" stroke-width="1.2"/>
<line x1="127.36" y1="301.60" x2="127.36" y2="297.80" stroke="#000" stroke-width="1.2"/>
<line x1="127.36" y1="21.30" x2="127.36" y2="25.10" stroke="#000" stroke-width="1.2"/>
<line x1="118.92" y1="301.60" x2="118.92" y2="294.00" stroke="#000" stroke-width="1.2"/>
<line x1="118.92" y1="21.30" x2="118.92" y2="28.90" stroke="#000" stroke-width="1.2"/>
<line x1="110.48" y1="301.60" x2="110.48" y2="297.80" stroke="#000" stroke-width="1.2"/>
<line x1="110.48" y1="21.30" x2="110.48" y2="25.10" stroke="#000" stroke-width="1.2"/>
<line x1="102.03" y1="301.60" x2="102.03" y2="297.80" stroke="#000" stroke-width="1.2"/>
<line x1="102.03" y1="21.30" x2="102.03" y2="25.10" stroke="#000" stroke-width="1.2"/>
<line x1="93.59" y1="301.60" x2="93.59" y2="297.80" stroke="#000" stroke-width="1.2"/>
<line x1="93.59" y1="21.30" x2="93.59" y2="25.10" stroke="#000" stroke-width="1.2"/>
<line x1="85.14" y1="301.60" x2="85.14" y2="297.80" stroke="#000" stroke-width="1.2"/>
<line x1="85.14" y1="21.30" x2="85.14" y2="25.10" stroke="#000" stroke-width="1.2"/>
<line x1="76.70" y1="301.60" x2="76.70" y2="294.00" stroke="#000" stroke-width="1.2"/>
<line x1="76.70" y1="21.30" x2="76.70" y2="28.90" stroke="#000" stroke-width="1.2"/>
<line x1="68.26" y1="301.60" x2="68.26" y2="297.80" stroke="#000" stroke-width="1.2"/>
<line x1="68.26" y1="21.30" x2="68.26" y2="25.10" stroke="#000" stroke-width="1.2"/>
<rect x="64.0" y="21.3" width="278.8" height="280.3" fill="none" stroke="#000" stroke-width="1.3"/>
<line x1="64.0" y1="20.7" x2="64.0" y2="302.20000000000005" stroke="#000" stroke-width="2"/>
<text x="60.2" y="52.0" font-family="Liberation Sans" font-weight="bold" font-size="17" text-anchor="end">0.4</text>
<text x="60.2" y="100.8" font-family="Liberation Sans" font-weight="bold" font-size="17" text-anchor="end">0.2</text>
<text x="60.2" y="149.5" font-family="Liberation Sans" font-weight="bold" font-size="17" text-anchor="end">0</text>
<text x="60.2" y="198.2" font-family="Liberation Sans" font-weight="bold" font-size="17" text-anchor="end">-0.2</text>
<text x="60.2" y="247.0" font-family="Liberation Sans" font-weight="bold" font-size="17" text-anchor="end">-0.4</text>
<text x="60.2" y="295.8" font-family="Liberation Sans" font-weight="bold" font-size="17" text-anchor="end">-0.6</text>
<text x="76.7" y="318.8" font-family="Liberation Sans" font-weight="bold" font-size="17.5" text-anchor="middle">70</text>
<text x="118.9" y="318.8" font-family="Liberation Sans" font-weight="bold" font-size="17.5" text-anchor="middle">60</text>
<text x="161.1" y="318.8" font-family="Liberation Sans" font-weight="bold" font-size="17.5" text-anchor="middle">50</text>
<text x="203.4" y="318.8" font-family="Liberation Sans" font-weight="bold" font-size="17.5" text-anchor="middle">40</text>
<text x="245.6" y="318.8" font-family="Liberation Sans" font-weight="bold" font-size="17.5" text-anchor="middle">30</text>
<text x="287.8" y="318.8" font-family="Liberation Sans" font-weight="bold" font-size="17.5" text-anchor="middle">20</text>
<text x="330.0" y="318.8" font-family="Liberation Sans" font-weight="bold" font-size="17.5" text-anchor="middle">10</text>
<text x="195" y="344.4" font-family="Liberation Sans" font-weight="bold" font-size="21">% Most central</text>
<path d="M65.2,10.3 L72.8,17.6 M72.8,10.3 L65.2,17.6" stroke="#000" stroke-width="1.35" fill="none"/>
<text x="74" y="18" font-family="Liberation Sans" font-weight="bold" font-size="17">10</text>
<text x="91.6" y="11" font-family="Liberation Sans" font-weight="bold" font-size="11.5">-3</text>
<g transform="rotate(-90)"><text x="-184.30" y="20.40" font-family="Liberation Sans" font-weight="bold" font-size="20.5">c</text><text x="-172.30" y="20.40" font-family="Liberation Sans" font-weight="bold" font-size="20.5">o</text><text x="-159.22" y="20.40" font-family="Liberation Sans" font-weight="bold" font-size="20.5">s</text><text x="-147.02" y="20.40" font-family="Liberation Sans" font-weight="bold" font-size="20.5">(</text><text x="-141.88" y="20.60" font-family="Liberation Serif" font-weight="bold" font-size="20">ϕ</text><text x="-130.53" y="29.80" font-family="Liberation Serif" font-weight="bold" font-size="14.5">α</text><text x="-121.86" y="20.40" font-family="Liberation Sans" font-weight="bold" font-size="20.5">+</text><text x="-109.78" y="20.60" font-family="Liberation Serif" font-weight="bold" font-size="20">ϕ</text><text x="-99.29" y="31.80" font-family="Liberation Serif" font-weight="bold" font-size="14">β</text><text x="-91.80" y="20.20" font-family="Liberation Sans" font-weight="bold" font-size="20.5">-</text><text x="-84.71" y="20.50" font-family="Liberation Sans" font-weight="bold" font-size="20.5">2</text><text x="-74.07" y="20.40" font-family="Liberation Serif" font-weight="bold" font-size="20.5">Ψ</text><text x="-57.97" y="26.50" font-family="Liberation Sans" font-weight="bold" font-size="14.5">R</text><text x="-47.47" y="26.50" font-family="Liberation Sans" font-weight="bold" font-size="14.5">P</text><text x="-38.02" y="20.40" font-family="Liberation Sans" font-weight="bold" font-size="20.5">)</text></g>
<polyline points="4.8,32.2 14,27 23.7,32.2" fill="none" stroke="#000" stroke-width="1.25"/>
<polyline points="4.8,185.4 14,190.6 23.7,185.4" fill="none" stroke="#000" stroke-width="1.25"/>
<rect x="207" y="32.2" width="120.4" height="78.5" fill="#fff" stroke="#000" stroke-width="1.6"/>
<text x="221" y="43.4" font-family="Liberation Sans" font-weight="bold" font-size="11">Au+Au 200 GeV</text>
<text x="222.5" y="56.0" font-family="Liberation Sans" font-weight="bold" font-size="11">STAR</text>
<text x="222.5" y="69.0" font-family="Liberation Sans" font-weight="bold" font-size="11">HIJING</text>
<text x="222.5" y="80.7" font-family="Liberation Sans" font-weight="bold" font-size="11">HIJING + v</text>
<text x="222.5" y="95.0" font-family="Liberation Sans" font-weight="bold" font-size="11">UrQMD</text>
<text x="222.5" y="108.0" font-family="Liberation Sans" font-weight="bold" font-size="11">MEVSIM</text>
<text x="276.9" y="84.6" font-family="Liberation Sans" font-weight="bold" font-size="7.6">2</text>
<polygon points="215.4,57.2 214.1,54.3 210.6,54.0 213.2,52.0 212.4,48.9 215.4,50.5 218.4,48.9 217.6,52.0 220.2,54.0 216.7,54.3" fill="#000"/>
<polygon points="215.0,62.2 217.8,65.9 215.0,69.6 212.2,65.9" fill="none" stroke="#000" stroke-width="0.75"/>
<polygon points="211.4,81.3 218.6,81.3 215.0,75.3" fill="none" stroke="#000" stroke-width="0.75" stroke-linejoin="round"/>
<circle cx="214.8" cy="91.85" r="3.35" fill="none" stroke="#000" stroke-width="0.75"/>
<rect x="211.9" y="101.05000000000001" width="6.2" height="6.2" fill="none" stroke="#000" stroke-width="0.75"/>
<rect x="219" y="249.8" width="104" height="32.4" fill="#fff" stroke="#000" stroke-width="1.6"/>
<text x="221.5" y="261.3" font-family="Liberation Sans" font-weight="bold" font-size="10.5" fill="#f00" textLength="93" lengthAdjust="spacing" style="white-space:pre">Red : same charge</text>
<text x="221.5" y="277.3" font-family="Liberation Sans" font-weight="bold" font-size="10.5" fill="#00f" textLength="88.8" lengthAdjust="spacing" style="white-space:pre">Blue:  opp charge</text>
</svg>
</body></html>
